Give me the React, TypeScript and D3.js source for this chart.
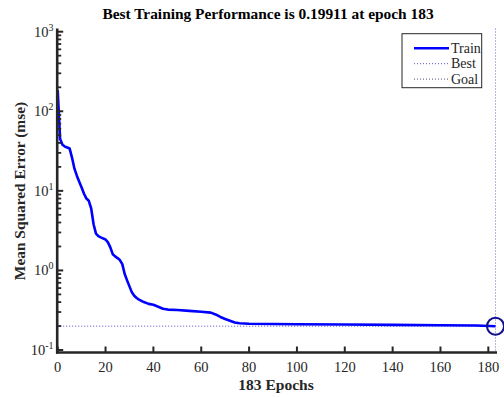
import React from "react";
import * as d3 from "d3";

const epochs = [0, 1, 2, 3, 4, 5, 6, 7, 8, 9, 10, 11, 12, 13, 14, 15, 16, 17, 18, 20, 21, 22, 23, 24, 25, 26, 27, 28, 29, 30, 31, 32, 33, 34, 36, 38, 40, 42, 44, 46, 50, 55, 60, 64, 66, 68, 70, 72, 74, 76, 80, 90, 100, 120, 140, 160, 175, 183];
const trainMse = [185, 45, 38, 36, 35, 34, 26, 19, 15.5, 13, 11, 9.2, 8, 7.5, 6, 3.8, 2.9, 2.7, 2.6, 2.45, 2.25, 1.95, 1.6, 1.5, 1.43, 1.35, 1.2, 0.9, 0.75, 0.63, 0.53, 0.48, 0.45, 0.43, 0.4, 0.38, 0.37, 0.35, 0.33, 0.322, 0.318, 0.31, 0.302, 0.295, 0.28, 0.26, 0.245, 0.233, 0.222, 0.217, 0.214, 0.212, 0.211, 0.209, 0.207, 0.205, 0.203, 0.19911];
const bestEpoch = 183;
const bestPerf = 0.19911;
const xTicks = [0, 20, 40, 60, 80, 100, 120, 140, 160, 180];
const yDecades = [-1, 0, 1, 2, 3];
const legendItems = ["Train", "Best", "Goal"];
const titleText = "Best Training Performance is 0.19911 at epoch 183";
const xLabel = "183 Epochs";
const yLabel = "Mean Squared Error  (mse)";

const FONT = "'Liberation Serif', 'Times New Roman', serif";
const INK = "#262626";

export default function App() {
  const x = d3.scaleLinear().domain([0, 183]).range([57.7, 495.5]);
  const y = d3.scaleLog().domain([0.1, 1000]).range([350, 31.7]);
  const axL = 57.2;
  const axB = 352.5;
  const axTop = 28.5;
  const axRight = 497;

  const pts = epochs.map((e, i) => [e, trainMse[i]] as [number, number]);
  const line = d3.line<[number, number]>().x(d => x(d[0])).y(d => y(d[1]));

  const minor: number[] = [];
  for (let dd = -1; dd < 3; dd++) for (let m = 2; m <= 9; m++) minor.push(m * Math.pow(10, dd));

  return (
    <svg width={504} height={398} style={{ position: "fixed", left: 0, top: 0, background: "#fff" }} fontFamily={FONT}>
      <rect x={0} y={0} width={504} height={398} fill="#fff" />
      {/* best lines */}
      <line x1={axL} x2={x(bestEpoch)} y1={y(bestPerf)} y2={y(bestPerf)} stroke="#5050c8" strokeWidth={1} strokeDasharray="1,2" />
      <line x1={x(bestEpoch)} x2={x(bestEpoch)} y1={axTop} y2={axB} stroke="#6a6ad0" strokeWidth={1} strokeDasharray="1,2" />
      {/* train */}
      <path d={line(pts) || ""} fill="none" stroke="#0000ff" strokeWidth={2.6} strokeLinejoin="round" />
      <circle cx={x(bestEpoch)} cy={y(bestPerf)} r={8.5} fill="none" stroke="#10108c" strokeWidth={2} />
      {/* axes */}
      <line x1={axL} x2={axL} y1={axTop} y2={axB + 1.2} stroke={INK} strokeWidth={2.6} />
      <line x1={axL - 1.2} x2={axRight} y1={axB} y2={axB} stroke={INK} strokeWidth={2.6} />
      {xTicks.map(t => (
        <g key={"xt" + t}>
          <line x1={x(t)} x2={x(t)} y1={axB} y2={axB - 6} stroke={INK} strokeWidth={2} />
          <text x={x(t)} y={372} textAnchor="middle" fontSize={14.5} fill={INK}>{t}</text>
        </g>
      ))}
      {minor.map(v => (
        <line key={"mn" + v} x1={axL} x2={axL + 4} y1={y(v)} y2={y(v)} stroke={INK} strokeWidth={1.8} />
      ))}
      {yDecades.map(dd => {
        const yy = y(Math.pow(10, dd));
        return (
          <g key={"yd" + dd}>
            <line x1={axL} x2={axL + 6} y1={yy} y2={yy} stroke={INK} strokeWidth={2} />
            <text x={53.5} y={yy + 4.8} textAnchor="end" fontSize={14.5} fill={INK}>
              10<tspan dy={-6} fontSize={10}>{dd}</tspan>
            </text>
          </g>
        );
      })}
      {/* labels */}
      <text x={268} y={19} textAnchor="middle" fontSize={15.4} fontWeight="bold" fill="#000">{titleText}</text>
      <text x={276} y={390} textAnchor="middle" fontSize={15.5} fontWeight="bold" fill={INK}>{xLabel}</text>
      <text transform="translate(25,191) rotate(-90)" textAnchor="middle" fontSize={15.4} fontWeight="bold" fill={INK}>{yLabel}</text>
      {/* legend */}
      <rect x={402} y={33.7} width={79.7} height={54} fill="#fff" stroke={INK} strokeWidth={1} />
      {legendItems.map((name, i) => {
        const ly = 48.3 + i * 15.4;
        const stroke = i === 0 ? "#0000ff" : i === 1 ? "#5050c8" : "#505078";
        return (
          <g key={name}>
            <line x1={414} x2={449} y1={ly} y2={ly} stroke={stroke} strokeWidth={i === 0 ? 2.6 : 1} strokeDasharray={i === 0 ? undefined : "1,2"} />
            <text x={451} y={ly + 4.5} fontSize={14} fill={INK}>{name}</text>
          </g>
        );
      })}
    </svg>
  );
}
